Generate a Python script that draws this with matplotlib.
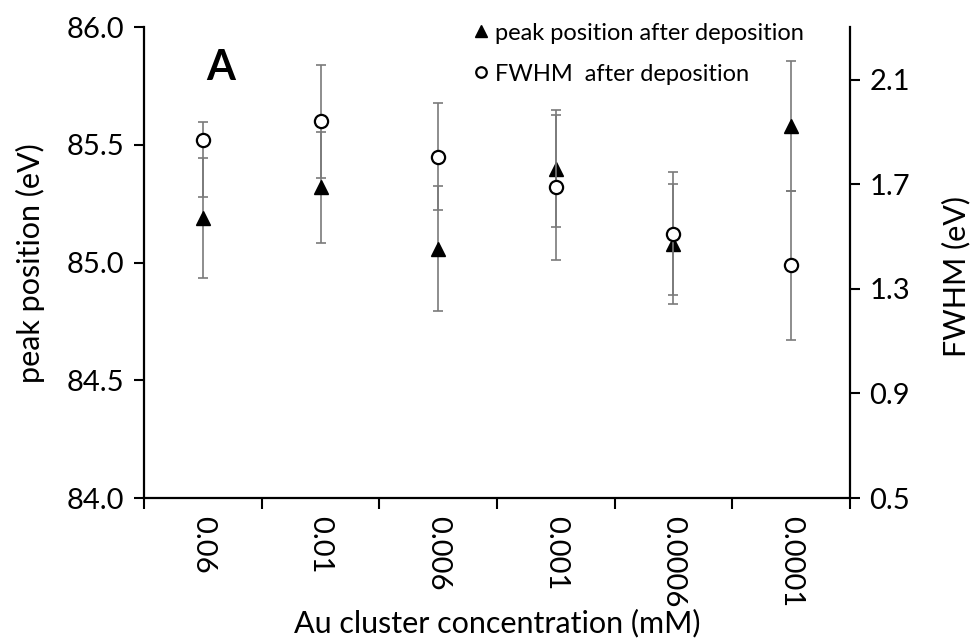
import matplotlib
matplotlib.use("Agg")
import matplotlib.pyplot as plt
import numpy as np

plt.rcParams["font.family"] = ["Lato", "DejaVu Sans"]

# data
conc = ["0.06", "0.01", "0.006", "0.001", "0.0006", "0.0001"]
peak = [85.19, 85.32, 85.06, 85.40, 85.08, 85.58]
peak_err = [0.255, 0.237, 0.266, 0.247, 0.254, 0.275]
fwhm = [1.870, 1.940, 1.805, 1.688, 1.510, 1.390]
fwhm_err_lo = [0.220, 0.215, 0.205, 0.278, 0.235, 0.285]
fwhm_err_hi = [0.068, 0.215, 0.205, 0.278, 0.235, 0.285]

x = np.arange(1, len(conc) + 1)

fig = plt.figure(figsize=(9.79, 6.44), dpi=100)
ax = fig.add_axes([0.1471, 0.2267, 0.7211, 0.7309])
ax2 = ax.twinx()

ebar = dict(fmt="none", ecolor="#7a7a7a", elinewidth=1.2, capsize=3.5, capthick=1.2)
ax.errorbar(x, peak, yerr=peak_err, **ebar)
ax2.errorbar(x, fwhm, yerr=[fwhm_err_lo, fwhm_err_hi], **ebar)
h1, = ax.plot(x, peak, ls="none", marker="^", ms=10, color="black", zorder=5)
h2, = ax2.plot(x, fwhm, ls="none", marker="o", ms=9.5, mfc="white", mec="black",
               mew=1.6, zorder=5)

ax.set_xlim(0.5, 6.5)
ax.set_ylim(84.0, 86.0)
ax2.set_ylim(0.5, 2.3)
ax.set_yticks([84.0, 84.5, 85.0, 85.5, 86.0])
ax.set_yticklabels([f"{v:.1f}" for v in [84.0, 84.5, 85.0, 85.5, 86.0]])
ax2.set_yticks([0.5, 0.9, 1.3, 1.7, 2.1])
ax2.set_yticklabels([f"{v:.1f}" for v in [0.5, 0.9, 1.3, 1.7, 2.1]])

# category boundaries as major ticks, labels on minor ticks
ax.set_xticks(np.arange(0.5, 7.0, 1.0))
ax.set_xticklabels([])
ax.set_xticks(x, minor=True)
ax.set_xticklabels(conc, minor=True, rotation=270, fontsize=21)
ax.tick_params(axis="x", which="minor", length=0, pad=13)
ax.tick_params(axis="x", which="major", length=8, width=1.5, direction="out")

for a in (ax, ax2):
    a.spines["top"].set_visible(False)
    for s in ("left", "right", "bottom"):
        a.spines[s].set_linewidth(1.6)
ax.spines["right"].set_visible(False)
ax2.spines["left"].set_visible(False)
ax2.spines["bottom"].set_visible(False)

ax.tick_params(axis="y", labelsize=21, length=7, width=1.5, pad=7)
ax2.tick_params(axis="y", labelsize=21, length=7, width=1.5, pad=7)

ax.set_ylabel("peak position (eV)", fontsize=22, labelpad=16)
ax2.set_ylabel("FWHM (eV)", fontsize=22)
ax2.yaxis.set_label_coords(1.13, 0.47)
ax.set_xlabel("Au cluster concentration (mM)", fontsize=22, labelpad=1)

ax.text(0.088, 0.913, "A", transform=ax.transAxes, fontsize=30, fontweight="bold",
        ha="left", va="center")

ax2.legend([h1, h2], ["peak position after deposition", "FWHM  after deposition"],
           loc="upper left", bbox_to_anchor=(0.446, 1.045), frameon=False,
           fontsize=17, handlelength=0.5, handletextpad=0.35, labelspacing=0.85,
           markerscale=0.8, borderpad=0.2)

fig.savefig("out.png", dpi=100)
